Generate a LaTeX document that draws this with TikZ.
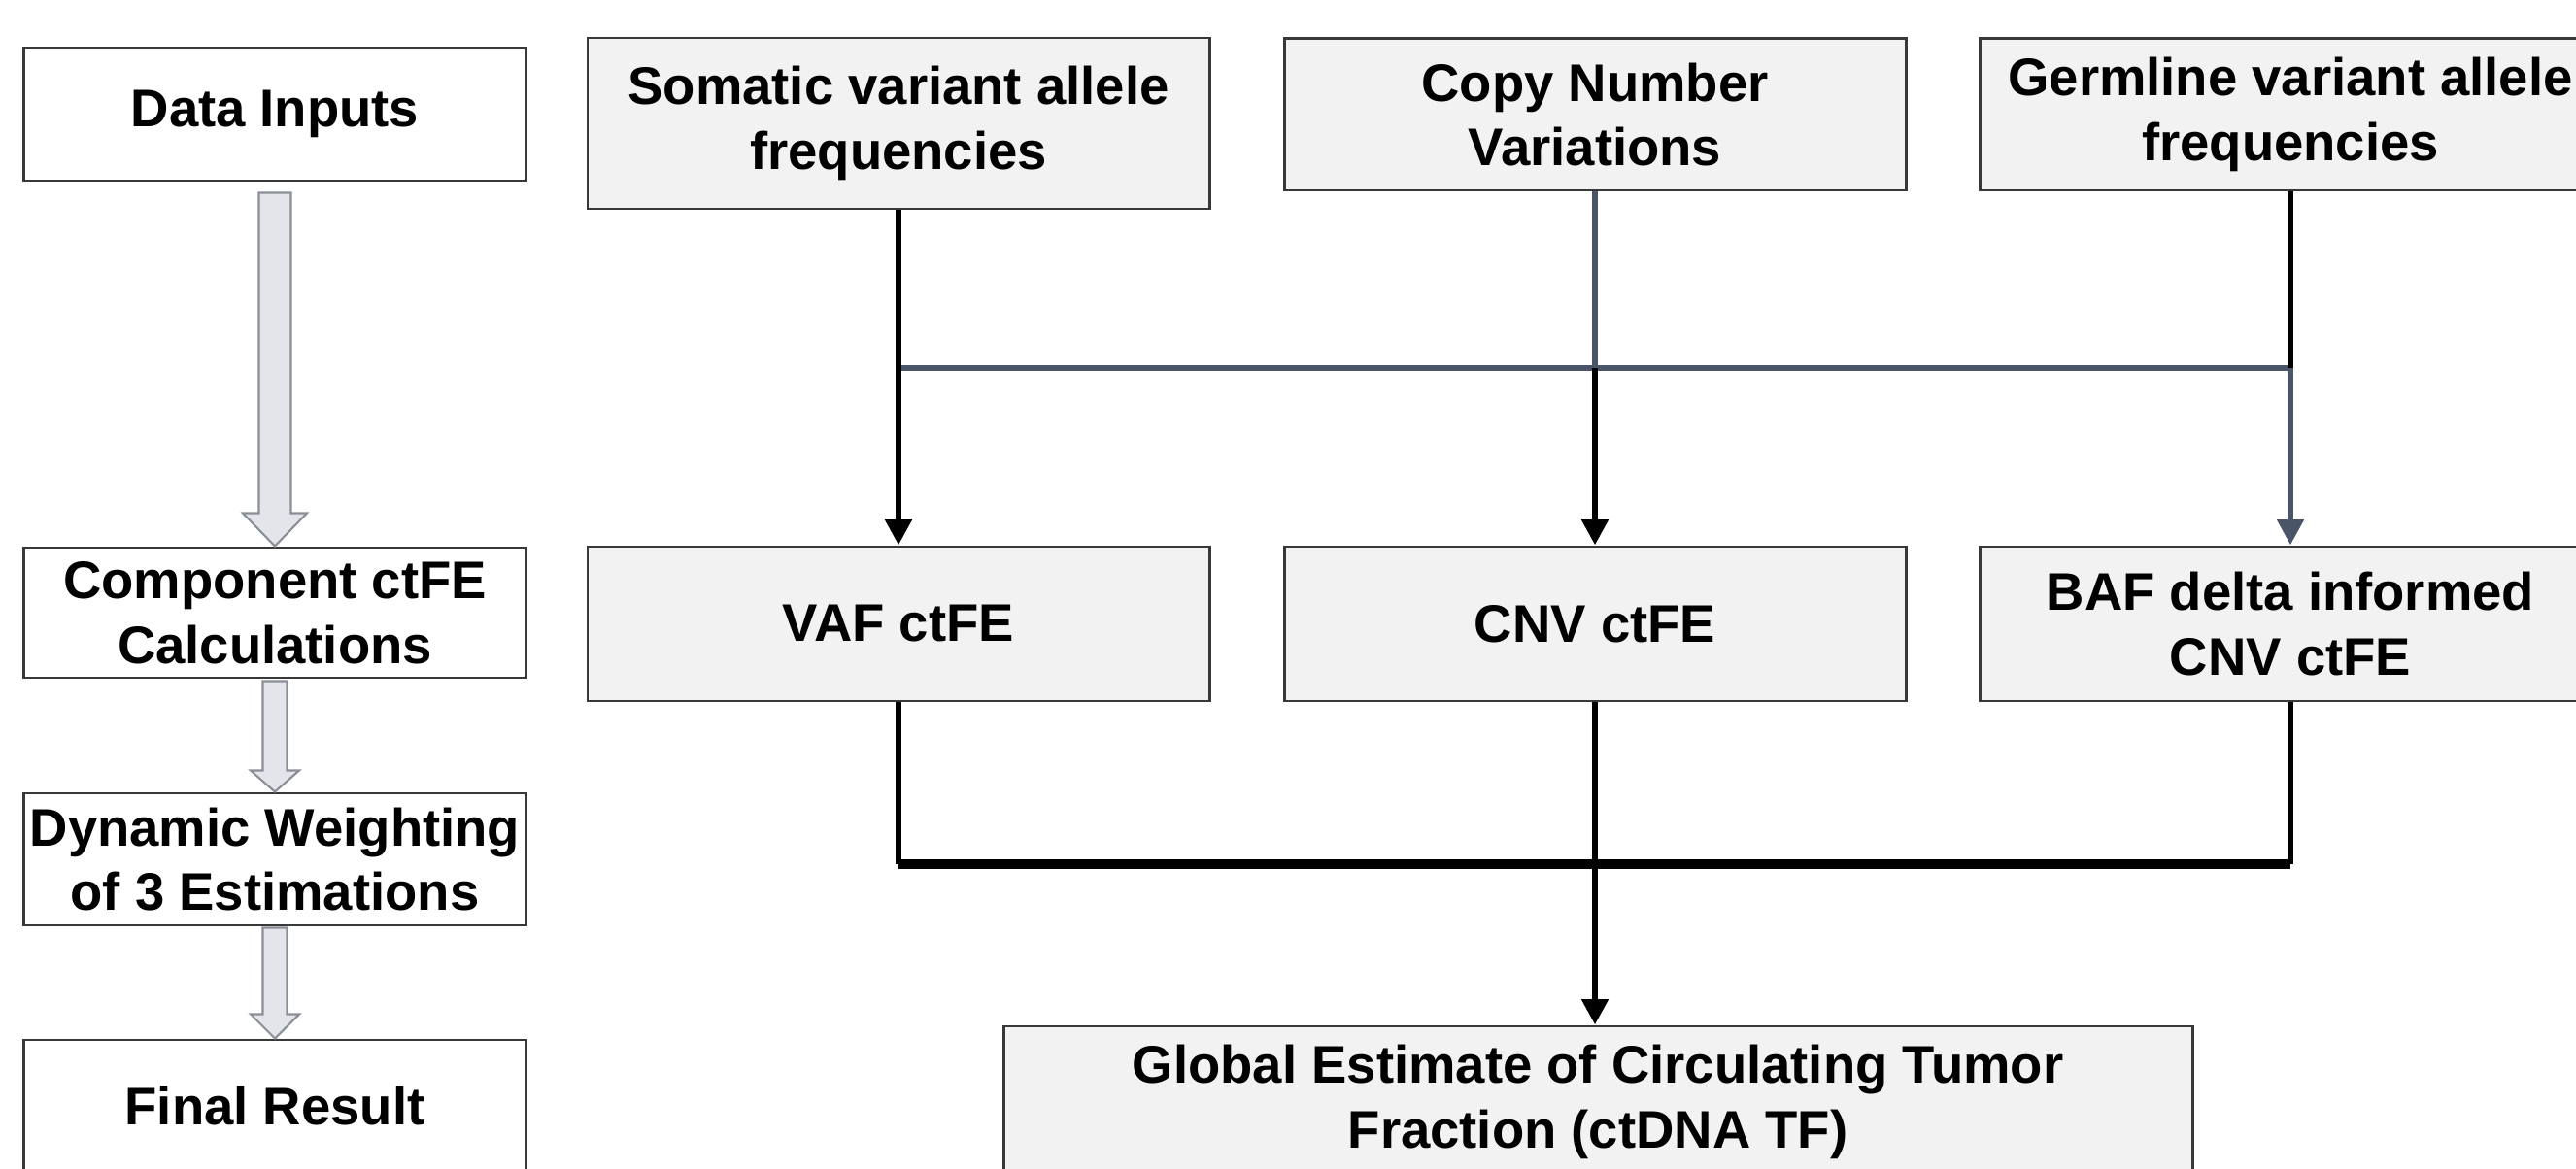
\documentclass[tikz,border=0pt]{standalone}
\usepackage{fontspec}
\setmainfont{Liberation Sans}
\usetikzlibrary{arrows.meta,calc}
\definecolor{boxgray}{HTML}{F2F2F2}
\definecolor{slate}{HTML}{4B5568}
\definecolor{hollowfill}{HTML}{E3E5EA}
\definecolor{hollowline}{HTML}{8A8E96}
\definecolor{edge}{HTML}{383838}

% fat grey arrow between two stage boxes: from, to, shaft half width, head length, gap
\newcommand{\stagearrow}[5]{%
  \filldraw[stagearrow] let \p1=(#1.south), \p2=(#2.north) in
    (\x1-#3,\y1-#5) -- (\x1-#3,\y2+#4) -- (\x1-2*#3,\y2+#4) -- (\x1,\y2)
    -- (\x1+2*#3,\y2+#4) -- (\x1+#3,\y2+#4) -- (\x1+#3,\y1-#5) -- cycle;}

\begin{document}
\begin{tikzpicture}[
  txt/.style={font=\fontsize{15.5}{19}\selectfont\bfseries, align=center},
  stage/.style={txt, draw=edge, line width=0.85pt, fill=white, minimum width=5.17cm, inner xsep=1pt},
  databox/.style={txt, draw=edge, line width=0.85pt, fill=boxgray, minimum width=6.4cm, minimum height=1.59cm},
  stagearrow/.style={draw=hollowline, fill=hollowfill, line width=0.6pt},
  plain/.style={black, line width=1.9pt},
  flow/.style={plain, -{Triangle[length=7.5pt,width=7.5pt]}},
  slateline/.style={slate, line width=1.9pt},
  slateflow/.style={slateline, -{Triangle[length=7.5pt,width=7.5pt]}}
]
\useasboundingbox (0,0) rectangle (26.52,12.03);

% stages on the left
\node [stage, minimum height=1.37cm] (inputs) at (2.83,10.855) {Data Inputs};
\node [stage, minimum height=1.34cm] (component) at (2.83,5.72) {Component ctFE\\Calculations};
\node [stage, minimum height=1.36cm] (weighting) at (2.83,3.18) {Dynamic Weighting\\of 3 Estimations};
\node [stage, minimum height=1.37cm] (final) at (2.83,0.635) {Final Result};
\stagearrow{inputs}{component}{0.165cm}{0.34cm}{0.11cm}
\stagearrow{component}{weighting}{0.125cm}{0.22cm}{0.02cm}
\stagearrow{weighting}{final}{0.125cm}{0.25cm}{0.01cm}

% inputs
\node [databox, minimum height=1.76cm] (somatic) at (9.25,10.76) {Somatic variant allele\\frequencies};
\node [databox, minimum height=1.56cm] (copynum) at (16.42,10.85) {Copy Number\\Variations};
\node [databox, minimum height=1.56cm] (germline) at (23.58,10.85) {Germline variant allele\\frequencies};

% component estimates
\node [databox] (vaf) at (9.25,5.605) {VAF ctFE};
\node [databox] (cnv) at (16.42,5.605) {CNV ctFE};
\node [databox] (baf) at (23.58,5.605) {BAF delta informed\\CNV ctFE};

% result
\node [databox, minimum width=12.24cm, minimum height=1.56cm] (global) at (16.45,0.68) {Global Estimate of Circulating Tumor\\Fraction (ctDNA TF)};

\coordinate (tapL) at (somatic.south |- 0,8.24);
\coordinate (tapM) at (copynum.south |- 0,8.24);
\coordinate (tapR) at (germline.south |- 0,8.24);
\coordinate (mergeL) at (vaf.south |- 0,3.13);
\coordinate (mergeR) at (baf.south |- 0,3.13);

\draw [slateline] (tapL) -- (tapR);
\draw [flow] (somatic) -- (vaf);
\draw [slateline] (copynum) -- (tapM);
\draw [flow] (tapM) -- (cnv);
\draw [plain] (germline) -- (tapR);
\draw [slateflow] (tapR) -- (baf);

\draw [plain, line width=2.6pt] (mergeL) -- (mergeR);
\draw [plain] (vaf) -- (mergeL);
\draw [plain] (baf) -- (mergeR);
\draw [flow] (cnv) -- (cnv |- global.north);
\end{tikzpicture}
\end{document}
